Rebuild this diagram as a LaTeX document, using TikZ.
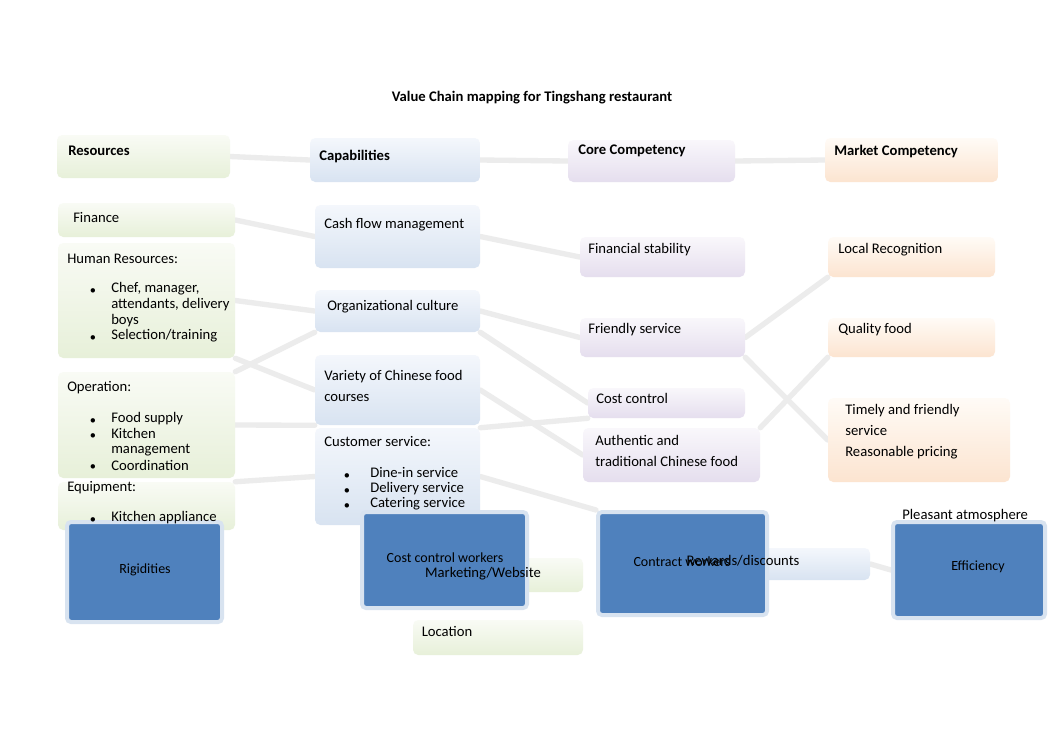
\documentclass[tikz,border=0pt]{standalone}
\usepackage{fontspec}
\setmainfont{Carlito}
\pgfdeclarelayer{background}
\pgfsetlayers{background,main}
\definecolor{gT}{RGB}{249,251,245}
\definecolor{gB}{RGB}{231,240,217}
\definecolor{bT}{RGB}{244,247,252}
\definecolor{bB}{RGB}{216,227,241}
\definecolor{pT}{RGB}{249,247,251}
\definecolor{pB}{RGB}{229,222,238}
\definecolor{oT}{RGB}{255,251,246}
\definecolor{oB}{RGB}{252,228,208}
\definecolor{dblue}{RGB}{79,129,189}
\newcommand\vcbox[6]{\node[#2,minimum width={(#5-#3)*0.75pt},minimum height={(#6-#4)*0.75pt}] (#1) at ({(#3+#5)/2},{(#4+#6)/2}) {};}
\tikzset{
  txt/.style={anchor=west,inner sep=0pt,align=left,font=\fontsize{11}{12}\selectfont},
  hdr/.style={anchor=west,inner sep=0pt,font=\fontsize{11}{12}\selectfont\bfseries},
  soft/.style={draw=none,rounded corners=4pt,inner sep=0pt},
  gbox/.style={soft,top color=gT,bottom color=gB},
  bbox/.style={soft,top color=bT,bottom color=bB},
  pbox/.style={soft,top color=pT,bottom color=pB},
  obox/.style={soft,top color=oT,bottom color=oB},
  darkbox/.style={fill=dblue,draw=dblue!22,line width=3pt,rounded corners=3pt,inner sep=0pt},
  dtxt/.style={inner sep=0pt,font=\fontsize{10.5}{12}\selectfont},
  bul/.style={inner sep=0pt,font=\fontsize{8}{9}\selectfont},
  conn/.style={draw=gray!15,line width=4pt,line cap=round},
}
\begin{document}
\begin{tikzpicture}[x=0.75pt,y=-0.75pt]
\useasboundingbox (0,0) rectangle (1062,751);
\begin{pgfonlayer}{background}
\fill[white] (0,0) rectangle (1062,751);
\end{pgfonlayer}
% pastel boxes
\vcbox{rh}{gbox}{57}{135}{230}{178}
\vcbox{fin}{gbox}{58}{203}{235}{237}
\vcbox{hr}{gbox}{58}{243}{235}{358}
\vcbox{op}{gbox}{58}{372}{235}{478}
\vcbox{eq}{gbox}{58}{482}{235}{530}
\vcbox{ch}{bbox}{310}{138}{480}{182}
\vcbox{cash}{bbox}{315}{205}{480}{268}
\vcbox{org}{bbox}{315}{290}{480}{332}
\vcbox{var}{bbox}{315}{355}{480}{425}
\vcbox{cust}{bbox}{315}{428}{480}{525}
\vcbox{coh}{pbox}{568}{140}{735}{182}
\vcbox{fs}{pbox}{580}{237}{745}{277}
\vcbox{fr}{pbox}{580}{318}{745}{357}
\vcbox{cc}{pbox}{588}{388}{745}{418}
\vcbox{au}{pbox}{583}{428}{760}{482}
\vcbox{mh}{obox}{825}{138}{998}{182}
\vcbox{lr}{obox}{828}{237}{995}{277}
\vcbox{qf}{obox}{828}{318}{995}{357}
\vcbox{tf}{obox}{828}{398}{1010}{482}
\vcbox{loc}{gbox}{413}{620}{583}{655}
\vcbox{mk}{gbox}{420}{558}{583}{592}
\vcbox{rw}{bbox}{700}{548}{870}{580}
% dark boxes
\vcbox{rig}{darkbox}{67}{522}{222}{622}
\vcbox{ccw}{darkbox}{362}{512}{527}{608}
\vcbox{cw}{darkbox}{598}{512}{767}{615}
\vcbox{eff}{darkbox}{893}{522}{1045}{618}
% connectors behind boxes
\begin{pgfonlayer}{background}
\draw[conn] (rh.east) -- (ch.west);
\draw[conn] (ch.east) -- (coh.west);
\draw[conn] (coh.east) -- (mh.west);
\draw[conn] (fin.east) -- (cash.west);
\draw[conn] (hr.east) -- (org.west);
\draw[conn] (hr.south east) -- (var.west);
\draw[conn] (op.north east) -- (org.south west);
\draw[conn] (op.east) -- (var.south west);
\draw[conn] (eq.north east) -- (cust.west);
\draw[conn] (cash.east) -- (fs.west);
\draw[conn] (org.east) -- (fr.west);
\draw[conn] (org.south east) -- (cc.west);
\draw[conn] (var.east) -- (au.west);
\draw[conn] (cust.north east) -- (cc.south west);
\draw[conn] (cust.east) -- (cw.north west);
\draw[conn] (fr.east) -- (lr.south west);
\draw[conn] (fr.south east) -- (tf.west);
\draw[conn] (au.north east) -- (qf.south west);
\draw[conn] (cw.east) -- (rw.west);
\draw[conn] (rw.east) -- (eff.west);
\end{pgfonlayer}
% title and headers
\node[inner sep=0pt,font=\fontsize{11}{12}\selectfont\bfseries] (title) at (532,98) {Value Chain mapping for Tingshang restaurant};
\node[hdr] (tres) at (68,151) {Resources};
\node[hdr] (tcap) at (319,156) {Capabilities};
\node[hdr] (tcore) at (578,151) {Core Competency};
\node[hdr] (tmkt) at (834,151) {Market Competency};
% resources
\node[txt] (tfin) at (73,217) {Finance};
\node[txt] (thr) at (67,259) {Human Resources:};
\node[bul] (b1) at (93,291) {$\bullet$};
\node[txt,font=\fontsize{11}{12}\selectfont] (thr1) at (111,305) {Chef, manager,\\attendants, delivery\\boys};
\node[bul] (b2) at (93,338) {$\bullet$};
\node[txt] (thr2) at (111,336) {Selection/training};
\node[txt] (top) at (67,388) {Operation:};
\node[bul] (b3) at (93,421) {$\bullet$};
\node[txt] (top1) at (111,419) {Food supply};
\node[bul] (b4) at (93,436) {$\bullet$};
\node[txt,font=\fontsize{11}{11.5}\selectfont] (top2) at (111,442) {Kitchen\\management};
\node[bul] (b5) at (93,467) {$\bullet$};
\node[txt] (top3) at (111,465) {Coordination};
\node[txt] (teq) at (67,488) {Equipment:};
\node[bul] (b6) at (93,520) {$\bullet$};
\node[txt] (teq1) at (111,518) {Kitchen appliance};
% capabilities
\node[txt] (tcash) at (324,225) {Cash flow management};
\node[txt] (torg) at (327,307) {Organizational culture};
\node[txt,font=\fontsize{11}{15.75}\selectfont] (tvar) at (324,385.5) {Variety of Chinese food\\courses};
\node[txt] (tcust) at (324,441) {Customer service:};
\node[bul] (b7) at (347,476) {$\bullet$};
\node[bul] (b8) at (347,491) {$\bullet$};
\node[bul] (b9) at (347,506) {$\bullet$};
\node[txt,font=\fontsize{11}{11.25}\selectfont] (tcust1) at (370,489) {Dine-in service\\Delivery service\\Catering service};
% core
\node[txt] (tfs) at (588,250) {Financial stability};
\node[txt] (tfr) at (588,330) {Friendly service};
\node[txt] (tcc) at (596,398) {Cost control};
\node[txt,font=\fontsize{11}{15.75}\selectfont] (tau) at (595,450.5) {Authentic and\\traditional Chinese food};
% market
\node[txt] (tlr) at (838,250) {Local Recognition};
\node[txt] (tqf) at (838,330) {Quality food};
\node[txt,font=\fontsize{11}{16}\selectfont] (ttf) at (845,431.5) {Timely and friendly\\service\\Reasonable pricing};
\node[txt] (tpa) at (902,516) {Pleasant atmosphere};
% dark box texts
\node[dtxt] (trig) at (145,570) {Rigidities};
\node[dtxt] (tccw) at (445,558) {Cost control workers};
\node[dtxt] (tcw) at (682,562) {Contract workers};
\node[dtxt] (teff) at (978,567) {Efficiency};
\node[inner sep=0pt,font=\fontsize{11}{12}\selectfont] (tmk) at (483,574) {Marketing/Website};
\node[inner sep=0pt,font=\fontsize{11}{12}\selectfont] (trw) at (743,561) {Rewards/discounts};
\node[inner sep=0pt,font=\fontsize{11}{12}\selectfont] (tloc) at (447,631) {Location};
\end{tikzpicture}
\end{document}
